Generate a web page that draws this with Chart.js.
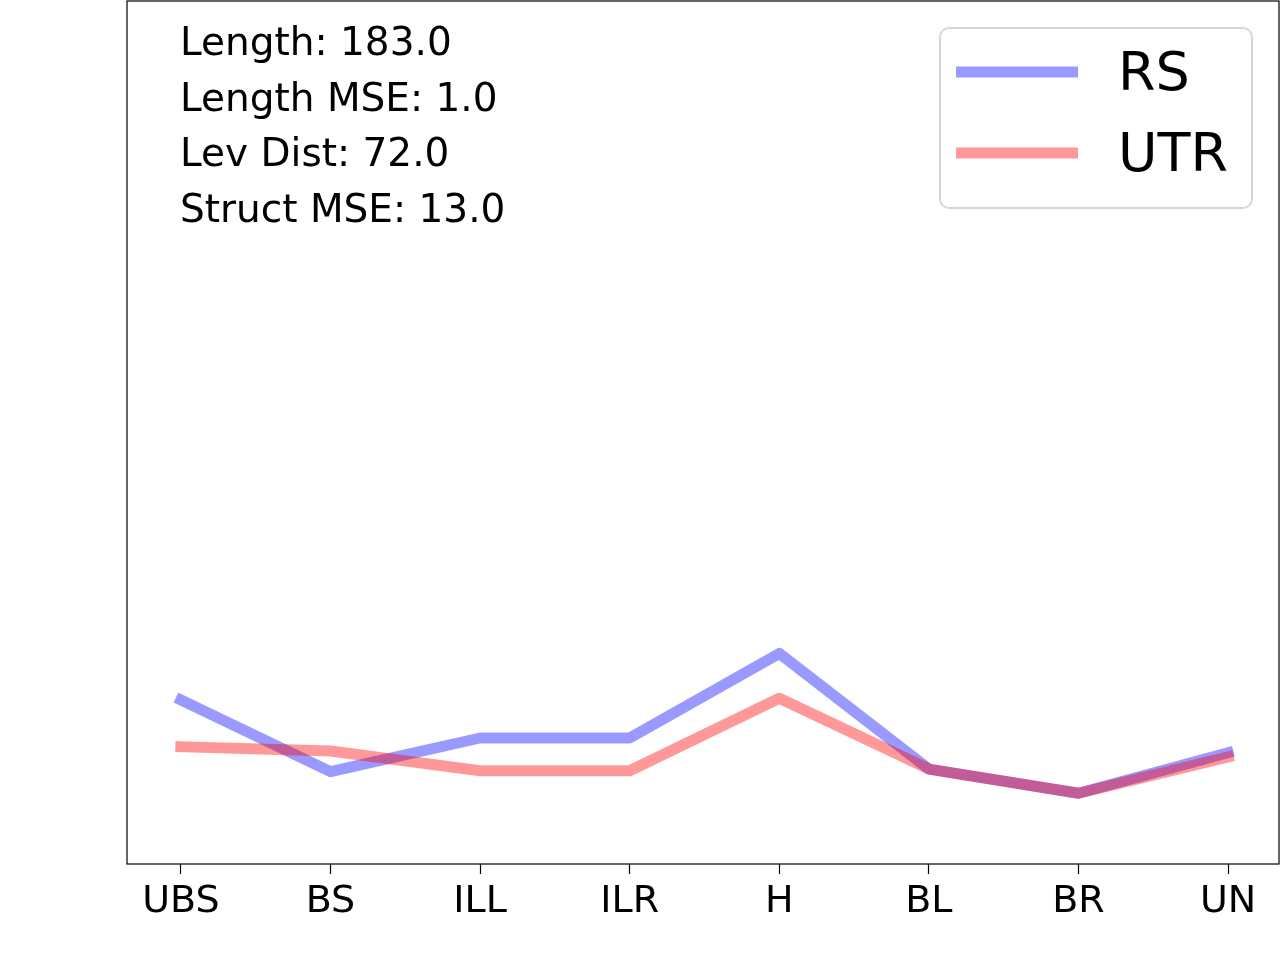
<!DOCTYPE html>
<html>
<head>
<meta charset="utf-8">
<script src="https://cdn.jsdelivr.net/npm/chart.js@4/dist/chart.umd.min.js"></script>
<style>
  html, body { margin: 0; padding: 0; background: #fff; }
  canvas { display: block; }
</style>
</head>
<body>
<canvas id="chart" width="1280" height="960"></canvas>
<script>
// categories and series (y in arbitrary units, axis is unlabeled)
const categories = ['UBS', 'BS', 'ILL', 'ILR', 'H', 'BL', 'BR', 'UN'];
const rsValues  = [19.0, 10.7, 14.6, 14.6, 24.4, 11.0, 8.2, 12.9];
const utrValues = [13.6, 13.1, 10.8, 10.8, 19.2, 11.0, 8.2, 12.4];
const infoLines = ['Length: 183.0', 'Length MSE: 1.0', 'Lev Dist: 72.0', 'Struct MSE: 13.0'];

const FONT = "'DejaVu Sans', sans-serif";

// frame around plot area + text block + legend box
const decorations = {
    id: 'decorations',
    afterDraw(chart) {
        const ctx = chart.ctx;
        const a = chart.chartArea;
        ctx.save();

        // axes frame
        ctx.strokeStyle = '#000';
        ctx.lineWidth = 1.2;
        ctx.strokeRect(a.left, a.top, a.right - a.left, a.bottom - a.top);

        // info text
        ctx.fillStyle = '#000';
        ctx.font = '39px ' + FONT;
        ctx.textBaseline = 'middle';
        ctx.textAlign = 'left';
        infoLines.forEach((t, i) => {
            ctx.fillText(t, 180, 45 + i * 55.5);
        });

        // legend
        const bx = 940, by = 28, bw = 312, bh = 180, r = 9;
        ctx.beginPath();
        ctx.moveTo(bx + r, by);
        ctx.arcTo(bx + bw, by, bx + bw, by + bh, r);
        ctx.arcTo(bx + bw, by + bh, bx, by + bh, r);
        ctx.arcTo(bx, by + bh, bx, by, r);
        ctx.arcTo(bx, by, bx + bw, by, r);
        ctx.closePath();
        ctx.fillStyle = 'rgba(255,255,255,0.8)';
        ctx.fill();
        ctx.strokeStyle = '#d6d6d6';
        ctx.lineWidth = 2;
        ctx.stroke();

        ctx.font = '54px ' + FONT;
        chart.data.datasets.forEach((ds, i) => {
            const y = 72 + i * 81;
            ctx.beginPath();
            ctx.moveTo(956, y);
            ctx.lineTo(1078, y);
            ctx.strokeStyle = ds.borderColor;
            ctx.lineWidth = 11;
            ctx.lineCap = 'butt';
            ctx.stroke();
            ctx.fillStyle = '#000';
            ctx.fillText(ds.label, 1118, y + 4);
        });
        ctx.restore();
    }
};

new Chart(document.getElementById('chart').getContext('2d'), {
    type: 'line',
    data: {
        datasets: [{
            label: 'RS',
            order: 1,
            data: rsValues.map((v, i) => ({ x: i, y: v })),
            borderColor: 'rgba(0, 0, 255, 0.4)',
            borderWidth: 11,
            borderCapStyle: 'square',
            borderJoinStyle: 'round',
            pointRadius: 0,
            fill: false,
            tension: 0
        }, {
            label: 'UTR',
            order: 0,
            data: utrValues.map((v, i) => ({ x: i, y: v })),
            borderColor: 'rgba(255, 0, 0, 0.4)',
            borderWidth: 11,
            borderCapStyle: 'square',
            borderJoinStyle: 'round',
            pointRadius: 0,
            fill: false,
            tension: 0
        }]
    },
    options: {
        responsive: false,
        animation: false,
        devicePixelRatio: 1,
        layout: { padding: { left: 127, right: 1, top: 1, bottom: 0 } },
        plugins: {
            legend: { display: false },
            tooltip: { enabled: false }
        },
        scales: {
            x: {
                type: 'linear',
                min: -0.36,
                max: 7.34,
                afterBuildTicks: (scale) => {
                    scale.ticks = categories.map((c, i) => ({ value: i }));
                },
                afterFit: (scale) => { scale.height = 96; },
                border: { display: false },
                grid: {
                    drawOnChartArea: false,
                    drawTicks: true,
                    tickLength: 10,
                    tickWidth: 1.2,
                    tickColor: '#000'
                },
                ticks: {
                    autoSkip: false,
                    maxRotation: 0,
                    padding: 5,
                    color: '#000',
                    font: { family: FONT, size: 38 },
                    callback: (v) => categories[v]
                }
            },
            y: {
                min: 0,
                max: 100,
                afterFit: (scale) => { scale.width = 0; },
                border: { display: false },
                grid: { display: false },
                ticks: { display: false }
            }
        }
    },
    plugins: [decorations]
});
</script>
</body>
</html>
